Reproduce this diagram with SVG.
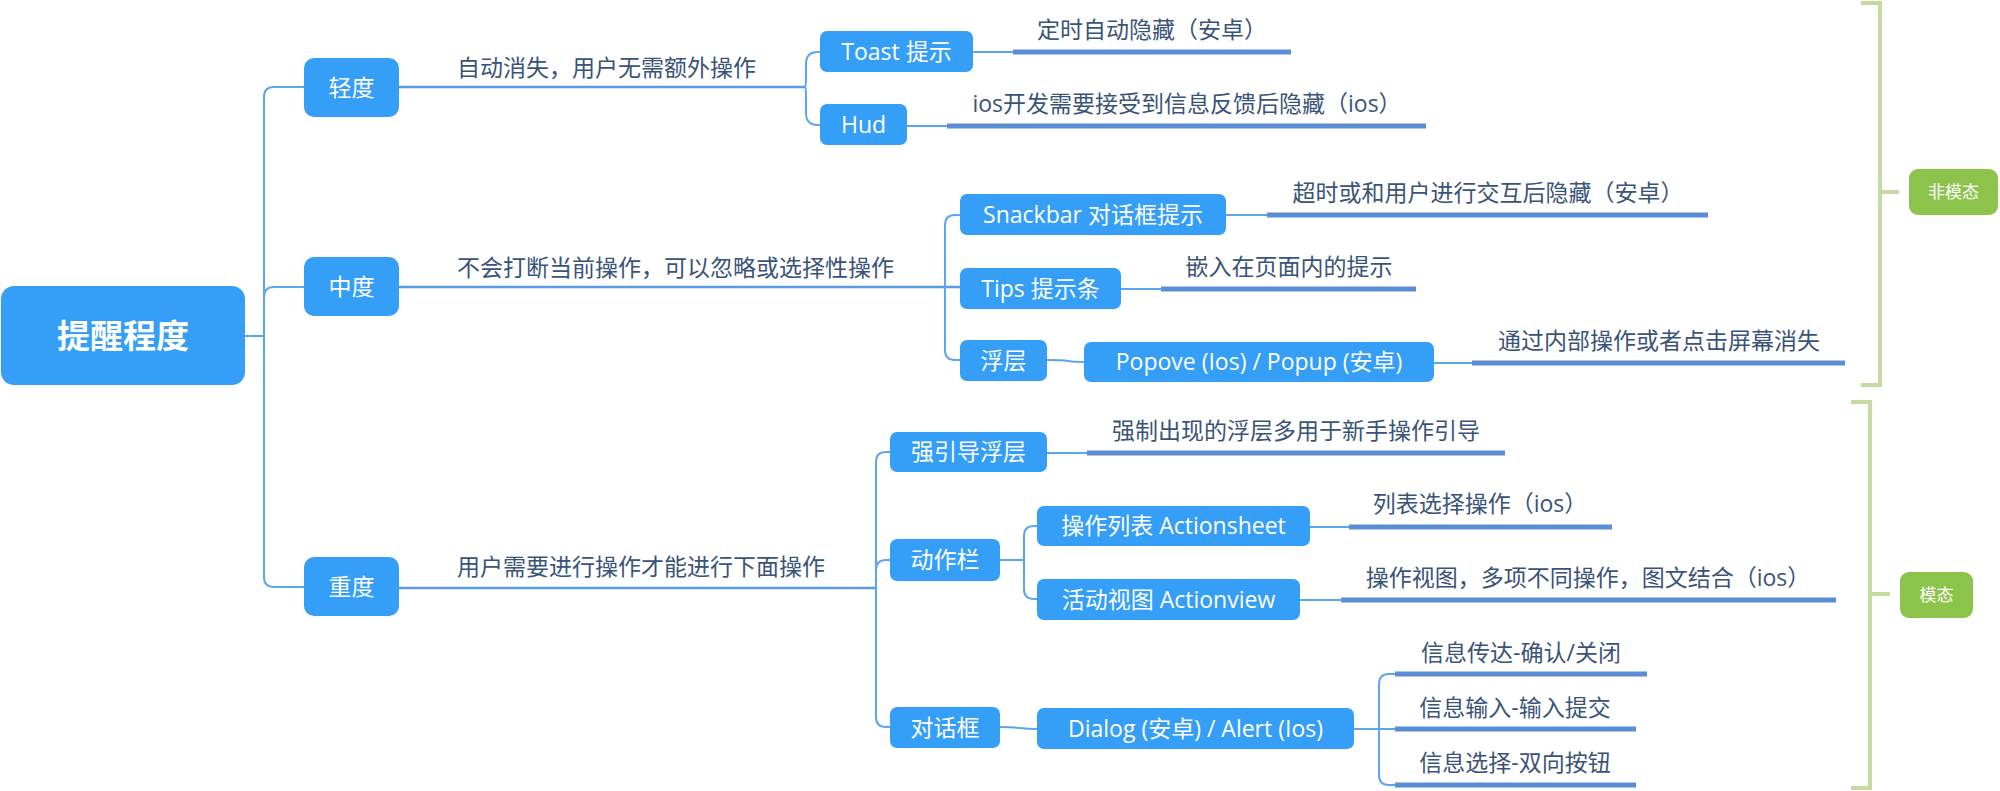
<svg xmlns="http://www.w3.org/2000/svg" width="2000" height="791" viewBox="0 0 2000 791">
<style>
.box{fill:#359ef6}
.gbox{fill:#8cc34b}
.nt{font-family:"Open Sans","Noto Sans CJK SC",sans-serif;font-size:23px;fill:#ffffff;text-anchor:middle}
.rt{font-family:"Noto Sans CJK SC",sans-serif;font-size:33px;font-weight:bold;fill:#ffffff;text-anchor:middle}
.gt{font-family:"Noto Sans CJK SC",sans-serif;font-size:17px;fill:#ffffff;text-anchor:middle}
.dt{font-family:"Open Sans","Noto Sans CJK SC",sans-serif;font-size:23px;fill:#3a5378}
.dc{text-anchor:middle}
.ln{fill:none;stroke:#5fa5ee;stroke-width:2}
.l1{fill:none;stroke:#5a9be8;stroke-width:2.5}
.bar{fill:none;stroke:#5b8dd6;stroke-width:5}
.br{fill:none;stroke:#c3dba0;stroke-width:4}
</style>
<rect width="2000" height="791" fill="#ffffff"/>
<g id="connectors">
  <path class="ln" d="M245,336 H264"/>
  <path class="ln" d="M304,87 H274 Q264,87 264,97 V577 Q264,587 274,587 H304"/>
  <path class="ln" d="M264,297 Q264,287 274,287 H304"/>
  <path class="l1" d="M399,87 H805"/>
  <path class="l1" d="M399,287 H960"/>
  <path class="l1" d="M399,588 H876"/>
  <path class="ln" d="M805,87 Q806,87 806,78 V64 Q806,52 818,52 H820"/>
  <path class="ln" d="M805,87 Q806,87 806,96 V113 Q806,125 818,125 H820"/>
  <path class="ln" d="M960,215 H955 Q945,215 945,225 V350 Q945,360 955,360 H960"/>
  <path class="ln" d="M1047,360 C1075,360 1062,362 1084,362"/>
  <path class="ln" d="M890,452 H886 Q876,452 876,462 V717 Q876,727 886,727 H890"/>
  <path class="ln" d="M876,570 Q876,560 886,560 H890"/>
  <path class="ln" d="M1037,526 H1034 Q1024,526 1024,536 V589 Q1024,599 1034,599 H1037"/>
  <path class="ln" d="M1000,560 H1024"/>
  <path class="ln" d="M1000,727 C1022,727 1018,729 1037,729"/>
  <path class="ln" d="M1395,674 H1389 Q1379,674 1379,684 V775 Q1379,785 1389,785 H1395"/>
  <path class="ln" d="M1354,729 H1395"/>
  <path class="ln" d="M973,52 H1013"/>
  <path class="ln" d="M907,126 H947"/>
  <path class="ln" d="M1226,215 H1267"/>
  <path class="ln" d="M1121,289 H1161"/>
  <path class="ln" d="M1434,363 H1472"/>
  <path class="ln" d="M1047,453 H1087"/>
  <path class="ln" d="M1310,527 H1349"/>
  <path class="ln" d="M1300,600 H1341"/>
  <path class="bar" d="M1013,52 H1291"/>
  <path class="bar" d="M947,126 H1426"/>
  <path class="bar" d="M1267,215 H1708"/>
  <path class="bar" d="M1161,289 H1416"/>
  <path class="bar" d="M1472,363 H1845"/>
  <path class="bar" d="M1087,453 H1505"/>
  <path class="bar" d="M1349,527 H1612"/>
  <path class="bar" d="M1341,600 H1836"/>
  <path class="bar" d="M1395,674 H1647"/>
  <path class="bar" d="M1395,729 H1636"/>
  <path class="bar" d="M1395,785 H1636"/>
  <path class="br" d="M1861,3 H1880 V385 H1861 M1880,192 H1899"/>
  <path class="br" d="M1851,402 H1870 V788 H1851 M1870,594 H1890"/>
</g>
<g id="root"><rect class="box" x="1" y="286" width="244" height="99" rx="13"/><text class="rt" x="123" y="348">提醒程度</text></g>
<g id="n-light"><rect class="box" x="304" y="58" width="95" height="59" rx="10"/><text class="nt" x="351.5" y="96">轻度</text></g>
<g id="n-medium"><rect class="box" x="304" y="257" width="95" height="59" rx="10"/><text class="nt" x="351.5" y="295">中度</text></g>
<g id="n-heavy"><rect class="box" x="304" y="557" width="95" height="59" rx="10"/><text class="nt" x="351.5" y="595">重度</text></g>
<g id="l-light"><text class="dt" x="457" y="76">自动消失，用户无需额外操作</text></g>
<g id="l-medium"><text class="dt" x="457" y="276">不会打断当前操作，可以忽略或选择性操作</text></g>
<g id="l-heavy"><text class="dt" x="457" y="575">用户需要进行操作才能进行下面操作</text></g>
<g id="n-toast"><rect class="box" x="820" y="31" width="153" height="41" rx="7"/><text class="nt" x="896.5" y="60">Toast 提示</text><text class="dt dc" x="1152" y="38">定时自动隐藏（安卓）</text></g>
<g id="n-hud"><rect class="box" x="820" y="104" width="87" height="41" rx="7"/><text class="nt" x="863.5" y="133">Hud</text><text class="dt dc" x="1187" y="112">ios开发需要接受到信息反馈后隐藏（ios）</text></g>
<g id="n-snackbar"><rect class="box" x="960" y="194" width="266" height="41" rx="7"/><text class="nt" x="1093" y="223">Snackbar 对话框提示</text><text class="dt dc" x="1488" y="201">超时或和用户进行交互后隐藏（安卓）</text></g>
<g id="n-tips"><rect class="box" x="960" y="268" width="161" height="41" rx="7"/><text class="nt" x="1040.5" y="297">Tips 提示条</text><text class="dt dc" x="1289" y="275">嵌入在页面内的提示</text></g>
<g id="n-float"><rect class="box" x="960" y="340" width="87" height="41" rx="7"/><text class="nt" x="1003.5" y="369">浮层</text></g>
<g id="n-popover"><rect class="box" x="1084" y="342" width="350" height="40" rx="7"/><text class="nt" x="1259" y="370">Popove (Ios) / Popup (安卓)</text><text class="dt dc" x="1659" y="349">通过内部操作或者点击屏幕消失</text></g>
<g id="n-guide"><rect class="box" x="890" y="432" width="157" height="40" rx="7"/><text class="nt" x="968.5" y="460">强引导浮层</text><text class="dt dc" x="1296" y="439">强制出现的浮层多用于新手操作引导</text></g>
<g id="n-actionbar"><rect class="box" x="890" y="539" width="110" height="42" rx="7"/><text class="nt" x="945" y="568">动作栏</text></g>
<g id="n-actionsheet"><rect class="box" x="1037" y="506" width="273" height="40" rx="7"/><text class="nt" x="1173.5" y="534">操作列表 Actionsheet</text><text class="dt dc" x="1480" y="512">列表选择操作（ios）</text></g>
<g id="n-actionview"><rect class="box" x="1037" y="579" width="263" height="41" rx="7"/><text class="nt" x="1168.5" y="608">活动视图 Actionview</text><text class="dt dc" x="1588" y="586">操作视图，多项不同操作，图文结合（ios）</text></g>
<g id="n-dialogbox"><rect class="box" x="890" y="707" width="110" height="41" rx="7"/><text class="nt" x="945" y="736">对话框</text></g>
<g id="n-dialog"><rect class="box" x="1037" y="708" width="317" height="41" rx="7"/><text class="nt" x="1195.5" y="737">Dialog (安卓) / Alert (Ios)</text></g>
<g id="n-info1"><text class="dt dc" x="1521" y="661">信息传达-确认/关闭</text></g>
<g id="n-info2"><text class="dt dc" x="1515" y="716">信息输入-输入提交</text></g>
<g id="n-info3"><text class="dt dc" x="1515" y="771">信息选择-双向按钮</text></g>
<g id="n-nonmodal"><rect class="gbox" x="1909" y="169" width="89" height="46" rx="9"/><text class="gt" x="1953.5" y="198">非模态</text></g>
<g id="n-modal"><rect class="gbox" x="1900" y="572" width="73" height="46" rx="9"/><text class="gt" x="1936.5" y="601">模态</text></g>
</svg>
